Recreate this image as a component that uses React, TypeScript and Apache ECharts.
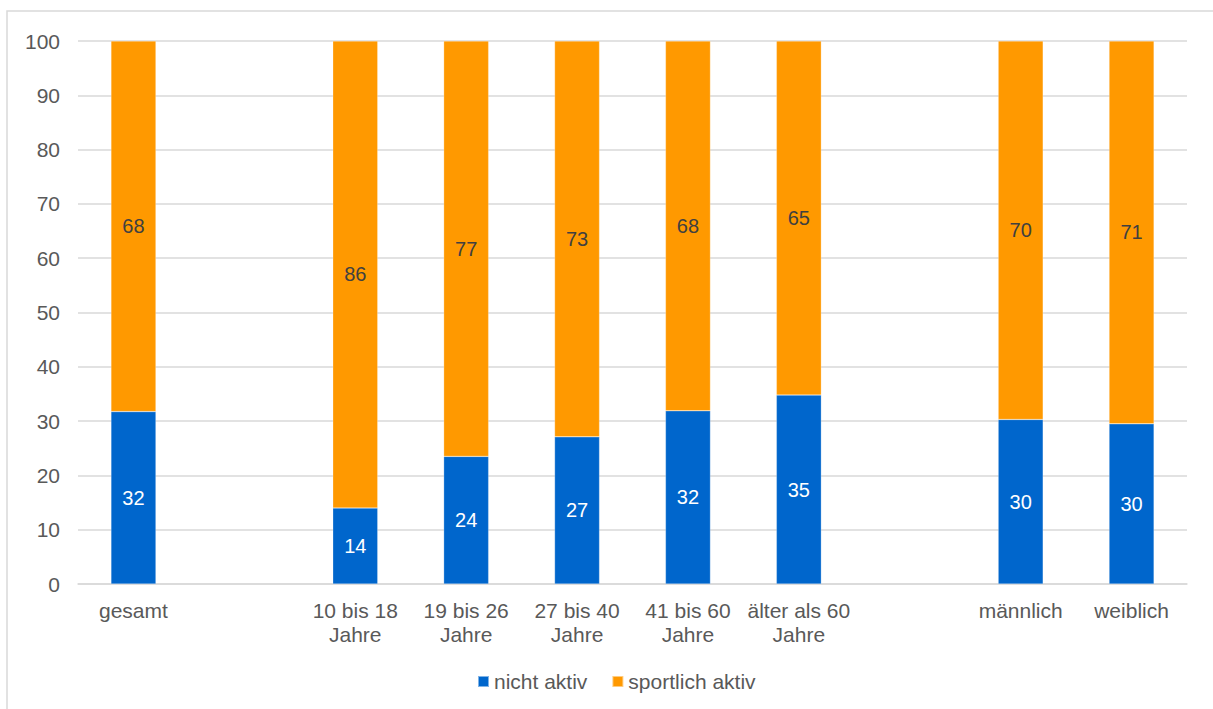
import React, { useEffect, useRef } from "react";
import * as echarts from "echarts";

const categories = [
  "gesamt",
  "",
  "10 bis 18\nJahre",
  "19 bis 26\nJahre",
  "27 bis 40\nJahre",
  "41 bis 60\nJahre",
  "älter als 60\nJahre",
  "",
  "männlich",
  "weiblich",
];
const nichtAktiv = [31.75, null, 14.0, 23.5, 27.1, 31.9, 34.8, null, 30.3, 29.5];
const sportlichAktiv = [68.25, null, 86.0, 76.5, 72.9, 68.1, 65.2, null, 69.7, 70.5];
const seriesNames = ["nicht aktiv", "sportlich aktiv"];
const yTicks = { min: 0, max: 100, interval: 10 };

const FONT = '"Liberation Sans", Arial, sans-serif';

export default function App() {
  const ref = useRef<HTMLDivElement>(null);
  useEffect(() => {
    if (!ref.current) return;
    const chart = echarts.init(ref.current, null, { renderer: "svg" });
    const label = (color: string) => ({
      show: true,
      position: "inside",
      color,
      fontSize: 20,
      fontFamily: FONT,
      formatter: (p: any) => (p.value == null ? "" : String(Math.round(p.value))),
    });
    chart.setOption({
      animation: false,
      textStyle: { fontFamily: FONT },
      graphic: [
        {
          type: "rect",
          shape: { x: 7, y: 11, width: 1220, height: 710 },
          style: { fill: "none", stroke: "#d9d9d9", lineWidth: 1.5 },
          silent: true,
        },
      ],
      grid: { left: 78, right: 26, top: 41, bottom: 125, containLabel: false },
      legend: {
        data: seriesNames,
        bottom: 12,
        left: 472,
        itemWidth: 11,
        itemHeight: 11,
        itemGap: 24,
        icon: "rect",
        textStyle: { fontSize: 21, color: "#595959", fontFamily: FONT },
      },
      xAxis: {
        type: "category",
        data: categories,
        axisTick: { show: false },
        axisLine: { lineStyle: { color: "#d9d9d9", width: 1.5 } },
        axisLabel: {
          interval: 0,
          color: "#595959",
          fontSize: 21,
          fontFamily: FONT,
          lineHeight: 24,
          margin: 14,
        },
      },
      yAxis: {
        type: "value",
        min: yTicks.min,
        max: yTicks.max,
        interval: yTicks.interval,
        axisLine: { show: false },
        axisTick: { show: false },
        splitLine: { lineStyle: { color: "#d9d9d9", width: 1.5 } },
        axisLabel: { color: "#595959", fontSize: 21, fontFamily: FONT, margin: 18 },
      },
      series: [
        {
          name: seriesNames[0],
          type: "bar",
          stack: "a",
          data: nichtAktiv,
          barWidth: 45,
          itemStyle: { color: "#0066CC", borderColor: "rgba(255,255,255,0.5)", borderWidth: 0.5 },
          label: label("#ffffff"),
        },
        {
          name: seriesNames[1],
          type: "bar",
          stack: "a",
          data: sportlichAktiv,
          barWidth: 45,
          itemStyle: { color: "#FF9900", borderColor: "rgba(255,255,255,0.5)", borderWidth: 0.5 },
          label: label("#404040"),
        },
      ],
    });
    return () => chart.dispose();
  }, []);
  return (
    <div
      ref={ref}
      style={{ position: "absolute", left: 0, top: 0, width: 1213, height: 709, background: "#fff" }}
    />
  );
}
